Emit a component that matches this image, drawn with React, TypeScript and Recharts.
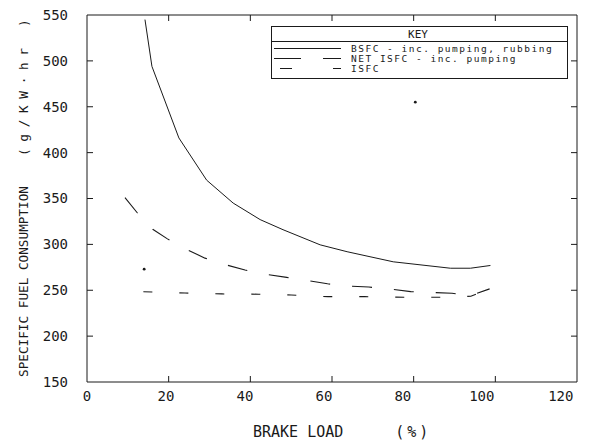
import { ComposedChart, Line, XAxis, YAxis, Legend, Scatter, ReferenceLine } from 'recharts';

// brake load (%) / specific fuel consumption (g/kW·hr)
const bsfcLoad = [14.2, 15.9, 22.5, 29.3, 35.8, 42.4, 48, 57.1, 63.7, 75, 89, 93.9, 98.8];
const bsfcValues = [545, 494, 416, 370, 345, 327, 316, 299.5, 292, 281, 274, 274, 277];

const netLoad = [9.3, 12.2, 16.1, 19.7, 24.4, 28.9, 34.2, 38.7, 44.3, 48.9, 54.2, 58.9, 64.5, 69, 74.7, 79.3, 84.7, 89.4, 93.9, 98.6];
const netValues = [351, 335, 316.5, 306, 294.5, 285, 277.5, 272, 267, 264, 260.5, 257, 254.5, 253.5, 251, 248.5, 247.5, 246.7, 244, 251.5];

const isfcLoad = [13.8, 24, 33, 42, 50, 59, 68, 78, 86, 90, 94, 98.6];
const isfcValues = [248.3, 247, 246, 245.7, 244.8, 243, 243, 242.3, 242.3, 242.5, 243.5, 251];

// stray plotter specks
const speckLoad = [14, 80.4];
const speckValues = [273, 455];

const xTicks = [0, 20, 40, 60, 80, 100, 120];
const yTicks = [150, 200, 250, 300, 350, 400, 450, 500, 550];

const legendRows = [
  { label: 'BSFC - inc. pumping, rubbing', dash: undefined, start: 3 },
  { label: 'NET ISFC - inc. pumping', dash: '27 22', start: 3 },
  { label: 'ISFC', dash: '12 41', start: 9 },
];

const toPoints = (xs: number[], ys: number[]) => xs.map((x, i) => ({ x, v: ys[i] }));

const INK = '#1a1a1a';
const FONT = '"DejaVu Sans Mono", monospace';
const TICK = 6;

// x labels drift a little left of their ticks on the original plotter output
const BottomTick = (p: any) => (
  <text x={p.x - p.payload.value * 0.135} y={p.y} dy="0.71em" textAnchor="middle" fontFamily={FONT} fontSize={14} fill={INK}>
    {p.payload.value}
  </text>
);

const LeftTick = (p: any) => (
  <text x={p.x} y={p.y} dy="0.355em" textAnchor="end" fontFamily={FONT} fontSize={14} fill={INK}>
    {p.payload.value}
  </text>
);

// inward tick marks on both ends of a reference line spanning the frame
const VerticalMarks = (p: any) => {
  const top = Math.min(p.y1, p.y2);
  const bottom = Math.max(p.y1, p.y2);
  return (
    <g stroke={INK}>
      <line x1={p.x1} x2={p.x1} y1={top} y2={top + TICK} />
      <line x1={p.x1} x2={p.x1} y1={bottom} y2={bottom - TICK} />
    </g>
  );
};

const HorizontalMarks = (p: any) => {
  const left = Math.min(p.x1, p.x2);
  const right = Math.max(p.x1, p.x2);
  return (
    <g stroke={INK}>
      <line x1={left} x2={left + TICK} y1={p.y1} y2={p.y1} />
      <line x1={right} x2={right - TICK} y1={p.y1} y2={p.y1} />
    </g>
  );
};

const KeyBox = () => (
  <svg width={297} height={53} style={{ display: 'block' }}>
    <rect x={0.5} y={0.5} width={296} height={52} fill="#fff" stroke={INK} />
    <line x1={0} x2={297} y1={15.5} y2={15.5} stroke={INK} />
    <text x={147} y={8} textAnchor="middle" dominantBaseline="central" fontFamily={FONT} fontSize={11} fill={INK}>
      KEY
    </text>
    {legendRows.map((row, i) => {
      const y = 22.5 + i * 10;
      return (
        <g key={row.label}>
          <line x1={row.start} x2={70} y1={y} y2={y} stroke={INK} strokeDasharray={row.dash} />
          <text
            x={80}
            y={y}
            dominantBaseline="central"
            fontFamily={FONT}
            fontSize={9.5}
            letterSpacing={1.5}
            fill={INK}
          >
            {row.label}
          </text>
        </g>
      );
    })}
  </svg>
);

export default function App() {
  return (
    <div style={{ position: 'absolute', left: 0, top: 0, background: '#fff' }}>
      <ComposedChart width={598} height={442} margin={{ top: 0, right: 0, bottom: 0, left: 0 }}>
        <XAxis
          xAxisId="b"
          type="number"
          dataKey="x"
          domain={[0, 120]}
          ticks={xTicks}
          height={60}
          tickSize={0}
          tickMargin={9}
          axisLine={{ stroke: INK }}
          tickLine={false}
          tick={BottomTick}
          label={({ viewBox }: any) => (
            <text x={viewBox.x + 166} y={432} dominantBaseline="central" fontFamily={FONT} fontSize={15} fill={INK}>
              BRAKE LOAD
              <tspan dx={52} letterSpacing={3}>
                (%)
              </tspan>
            </text>
          )}
        />
        <XAxis
          xAxisId="t"
          orientation="top"
          type="number"
          dataKey="x"
          domain={[0, 120]}
          ticks={xTicks}
          height={15}
          tick={false}
          axisLine={{ stroke: INK }}
          tickLine={false}
        />
        <YAxis
          yAxisId="l"
          type="number"
          domain={[150, 550]}
          ticks={yTicks}
          width={87}
          tickSize={0}
          tickMargin={19}
          axisLine={{ stroke: INK }}
          tickLine={false}
          tick={LeftTick}
          label={({ viewBox }: any) => {
            const cx = 23;
            const cy = viewBox.y + viewBox.height - 5;
            return (
              <text
                x={cx}
                y={cy}
                transform={`rotate(-90, ${cx}, ${cy})`}
                dominantBaseline="central"
                fontFamily={FONT}
                fontSize={12.7}
                fill={INK}
              >
                SPECIFIC FUEL CONSUMPTION
                <tspan dx={30} letterSpacing={6.7}>
                  {'(g/KW\u00B7hr )'}
                </tspan>
              </text>
            );
          }}
        />
        <YAxis
          yAxisId="r"
          orientation="right"
          type="number"
          domain={[150, 550]}
          ticks={yTicks}
          width={21}
          tick={false}
          axisLine={{ stroke: INK }}
          tickLine={false}
        />
        {xTicks.slice(1, -1).map((t) => (
          <ReferenceLine key={`x${t}`} xAxisId="b" yAxisId="l" x={t} shape={VerticalMarks} />
        ))}
        {yTicks.slice(1, -1).map((t) => (
          <ReferenceLine key={`y${t}`} xAxisId="b" yAxisId="l" y={t} shape={HorizontalMarks} />
        ))}
        <Legend
          layout="vertical"
          align="center"
          verticalAlign="middle"
          wrapperStyle={{ position: 'absolute', left: 271, top: 26, width: 297, height: 53 }}
          content={() => <KeyBox />}
        />
        <Line
          xAxisId="b"
          yAxisId="l"
          data={toPoints(bsfcLoad, bsfcValues)}
          dataKey="v"
          name="BSFC"
          type="linear"
          stroke={INK}
          strokeWidth={1}
          dot={false}
          isAnimationActive={false}
        />
        <Line
          xAxisId="b"
          yAxisId="l"
          data={toPoints(netLoad, netValues)}
          dataKey="v"
          name="NET ISFC"
          type="linear"
          stroke={INK}
          strokeWidth={1.1}
          strokeDasharray="20 22"
          dot={false}
          isAnimationActive={false}
        />
        <Line
          xAxisId="b"
          yAxisId="l"
          data={toPoints(isfcLoad, isfcValues)}
          dataKey="v"
          name="ISFC"
          type="linear"
          stroke={INK}
          strokeWidth={1.1}
          strokeDasharray="9 27"
          dot={false}
          isAnimationActive={false}
        />
        <Scatter
          xAxisId="b"
          yAxisId="l"
          data={toPoints(speckLoad, speckValues)}
          dataKey="v"
          fill={INK}
          shape={(p: any) => <circle cx={p.cx} cy={p.cy} r={1.4} fill={INK} />}
          isAnimationActive={false}
        />
      </ComposedChart>
    </div>
  );
}
